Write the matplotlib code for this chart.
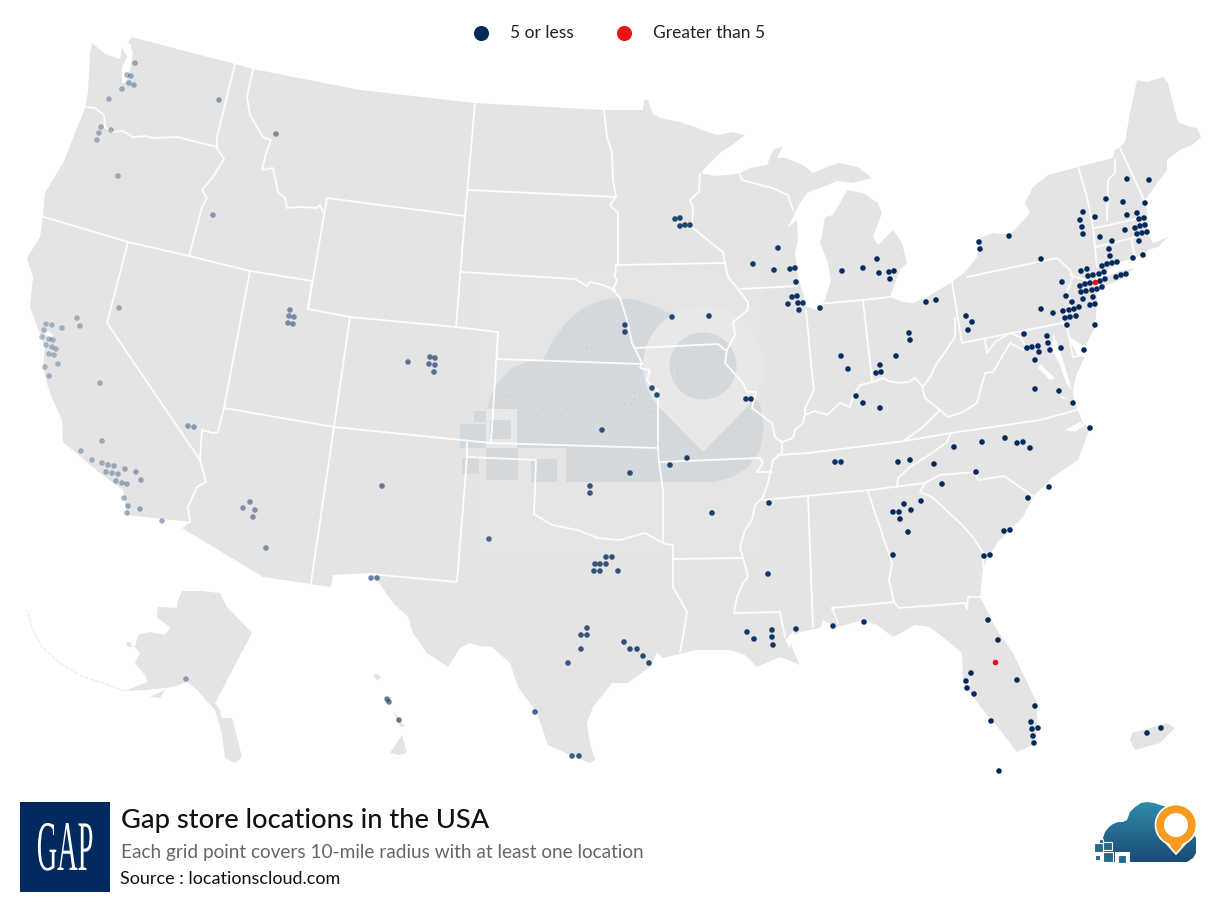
import numpy as np
import matplotlib
matplotlib.use('Agg')
import matplotlib.pyplot as plt
import matplotlib.patheffects as pe
from matplotlib.patches import Polygon, Circle, Rectangle
from matplotlib.transforms import Affine2D
from matplotlib.colors import LinearSegmentedColormap

plt.rcParams['font.family'] = ['Lato', 'DejaVu Sans']

mainland = [(92,43),(105,54),(120,59),(122,47),(127,45),(131,37),(235,64),(253,69),(360,90),(475,103),(604,110),(643,110),(644,100),(648,100),(652,113),(660,118),(680,122),(697,128),(717,135),(733,132),(745,135),
    (735,143),(720,153),(708,165),(701,173),(715,176),(728,175),(740,173),(750,168),(767,165),(773,150),(783,146),(777,158),(785,158),(803,165),(813,173),(827,167),(840,163),(858,167),(872,178),(853,183),(837,181),(820,188),(807,193),(800,203),(790,223),(787,228),(797,220),(798,240),(795,253),(798,277),(803,293),(807,307),(817,310),(825,300),(831,280),(827,260),(820,243),(822,235),(825,217),(833,215),(840,203),(847,190),(863,193),(878,203),(882,213),(873,237),(878,245),(893,230),(902,243),(907,263),(900,270),(895,283),(890,297),(903,302),(913,303),(927,297),(952,282),(965,272),(977,257),(980,238),(993,233),(1010,235),(1030,213),(1025,203),(1033,187),(1048,175),(1078,167),(1113,158),(1115,150),(1120,147),(1125,142),(1130,113),(1137,80),(1147,82),(1163,77),(1168,83),(1178,122),(1190,127),(1197,128),(1201,137),(1192,145),(1180,150),(1167,160),(1167,170),(1150,193),(1145,200),(1148,218),(1147,233),(1153,243),(1168,237),(1158,247),(1148,250),(1143,255),(1117,263),(1105,272),(1097,275),(1095,283),(1097,290),(1097,303),(1095,327),(1085,347),(1075,340),(1068,337),(1077,355),(1085,357),(1077,373),(1074,385),(1073,393),(1075,403),(1083,423),(1090,428),(1078,460),(1053,477),(1033,497),(1023,517),(997,543),(983,567),(980,597),(997,630),(1013,653),(1037,703),(1037,730),(1033,745),(1017,752),(1000,730),(983,710),(963,683),(962,653),(950,643),(930,627),(915,625),(893,637),(877,625),(864,620),(837,627),(823,620),(820,628),(800,632),(790,637),(793,650),(800,665),(780,657),(757,667),(745,655),(730,650),(697,650),(663,658),(657,653),(650,667),(628,683),(612,683),(593,707),(587,723),(590,743),(595,760),(590,763),(570,755),(548,745),(537,713),(518,687),(510,663),(492,647),(480,646),(470,643),(460,648),(448,667),(427,653),(413,633),(408,617),(393,603),(377,580),(370,573),(333,575),(331,587),(263,577),(182,528),(190,522),(127,515),(123,490),(100,473),(63,442),(62,420),(53,400),(48,387),(43,367),(45,347),(30,307),(33,277),(27,258),(40,237),(43,217),(45,193),(63,163),(85,108),(88,92),(90,53)]
long_island = [(1098,284),(1105,277),(1120,271),(1134,268),(1124,278),(1105,286)]
alaska = [(182,591),(200,591),(220,593),(227,607),(252,633),(215,703),(220,710),(222,718),(232,718),(242,757),(235,763),(225,758),(222,733),(215,710),(197,690),(187,682),(173,687),(147,690),(125,691),(147,682),(145,675),(135,663),(140,653),(135,647),(138,635),(150,632),(165,635),(170,628),(157,617),(158,607),(177,608),(178,600)]
kodiak = [(150,697),(165,690),(160,698)]
nunivak = [(126,642),(131,642),(132,647),(128,647)]
aleutians = [(125,691),(103,683),(83,677),(60,663),(43,648),(33,630),(27,610)]
hi_big = [(390,753),(402,735),(407,753),(398,755)]
hi_maui = [(393,710),(405,727),(400,727)]
hi_oahu = [(385,697),(391,697),(391,703),(387,703)]
hi_kauai = [(373,675),(378,674),(381,677),(377,681)]
puerto_rico = [(1132,733),(1167,723),(1175,728),(1160,743),(1135,750),(1130,740)]
islands = [long_island, alaska, kodiak, nunivak, hi_big, hi_maui, hi_oahu, hi_kauai, puerto_rico]

water = [[(130,43),(133,53),(130,70),(125,83),(122,83),(122,67),(127,57),(122,47)],
    [(45,333),(49,331),(53,336),(48,338)],
    [(966,678),(971,680),(970,686),(965,684)],
    [(1053,333),(1060,350),(1066,370),(1072,390),(1066,383),(1060,365),(1052,350)],
    [(1040,364),(1055,378),(1050,380),(1038,368)],
    [(1060,395),(1070,400),(1062,398)],
    [(1065,430),(1080,422),(1085,425),(1075,432)],
    [(785,640),(795,630),(790,648)]]

borders = [
    [(235,64),(217,137),(217,148),(224,159),(213,177),(202,190),(207,198),(202,207),(189,256)],
    [(86,107),(95,108),(104,115),(105,127),(112,132),(123,131),(133,137),(145,136),(153,138),(177,137),(217,147)],
    [(253,69),(247,97),(250,115),(263,137),(271,140),(265,157),(262,170),(273,168),(278,192),(285,198),(287,208),(300,207),(317,208),(320,205),(323,212)],
    [(308,309),(327,198),(465,216)],
    [(475,103),(465,216),(456,327)],
    [(469,190),(616,197)],
    [(462,272),(575,279),(587,286),(590,282),(603,285),(615,290)],
    [(604,110),(607,137),(612,153),(613,180),(616,197),(610,205),(618,213),(618,265)],
    [(616,265),(725,263)],
    [(700,174),(699,192),(690,200),(693,208),(692,227),(710,242),(723,252),(725,263)],
    [(616,265),(615,277),(617,280),(613,290),(620,298),(627,320),(632,343),(642,363),(640,368),(650,370),(647,380),(653,387),(658,390),(658,448),(659,462),(663,490),(663,540)],
    [(456,327),(498,332),(497,359),(642,364)],
    [(44,217),(128,242),(189,256),(250,271),(312,281),(308,309),(350,317),(456,327)],
    [(350,317),(334,427),(311,583)],
    [(498,332),(491,443)],
    [(250,271),(224,408),(218,432),(213,433),(202,430),(200,460),(206,482),(197,487),(188,507),(190,522)],
    [(128,242),(107,323),(200,460)],
    [(224,408),(334,427),(491,443),(658,448)],
    [(467,443),(467,457),(457,582),(370,574)],
    [(467,457),(536,460),(534,514),(552,525),(577,530),(598,538),(620,540),(645,533),(665,544),(673,545),(673,587),(687,612),(683,637),(680,652)],
    [(635,348),(718,344),(725,350)],
    [(725,263),(728,277),(737,288),(748,302),(748,310),(733,322),(735,335),(727,350),(725,363),(743,383),(747,392),(756,392),(752,408),(772,423),(775,437),(782,442),(782,453),(773,460),(768,483),(763,497),(755,505),(752,520),(745,530),(742,540),(740,547),(745,565),(748,577),(743,583),(737,597),(735,607),(734,613),(780,612),(782,622),(785,637)],
    [(659,462),(760,458),(763,463),(757,472),(772,472)],
    [(674,559),(742,558)],
    [(763,500),(870,490),(925,483),(940,475),(975,472),(978,480),(1004,476),(1033,496)],
    [(808,497),(813,627)],
    [(868,492),(892,563),(889,580),(894,602),(899,608),(965,603),(967,609),(968,597),(982,597)],
    [(832,608),(894,602)],
    [(832,608),(838,623)],
    [(925,483),(920,492),(932,497),(960,523),(973,537),(983,553),(983,567)],
    [(897,487),(898,478),(910,467),(932,453),(947,442),(951,433)],
    [(778,455),(808,453),(905,441),(951,433),(1040,420),(1077,410)],
    [(905,440),(923,427),(940,410)],
    [(922,387),(925,398),(940,410),(948,417),(963,412),(977,403),(985,373),(993,372),(1010,343),(1023,350)],
    [(985,340),(987,353),(995,342),(1010,333),(1020,337),(1025,345)],
    [(952,282),(962,343),(1062,323),(1067,327),(1073,357),(1085,355)],
    [(967,277),(1057,258),(1070,270),(1073,277),(1065,297),(1073,300),(1062,323)],
    [(1070,275),(1095,283)],
    [(1078,167),(1087,197),(1093,227),(1097,267)],
    [(1115,160),(1115,173),(1108,180),(1107,220)],
    [(1120,148),(1145,202)],
    [(1095,228),(1145,217)],
    [(1096,247),(1132,238),(1147,233)],
    [(1131,238),(1135,257)],
    [(955,318),(955,337),(943,355),(937,363),(930,377),(923,387),(915,378),(909,382),(898,383),(888,381),(883,378),(873,382),(860,385),(853,397),(850,407),(840,403),(827,415),(815,411),(805,415),(803,423),(795,430),(793,438),(782,442)],
    [(741,289),(797,286)],
    [(806,310),(812,373),(814,390),(805,408),(805,415)],
    [(863,300),(872,380)],
    [(807,305),(863,300),(890,297)],
    [(740,175),(742,180),(772,188),(788,195),(793,210)]]

# watermark outlines
wm_cloud = [(543,360),(553,340),(567,322),(583,308),(600,301),(617,298),(637,300),(657,307),(672,315),(703,366),(760,403),(764,427),(760,450),(747,468),(730,478),(713,482),(566,482),(566,448),(517,448),(517,409),(487,409),(492,393),(500,380),(512,368),(527,362)]
wm_squares = [(474,411,12,11),(460,424,26,24),(490,420,21,19),(486,448,32,32),(462,458,17,16),(531,459,26,23)]
wm_pale_frame = (486,409,31,39)
wm_pin_centre = (703,366)
wm_pin_tip = (703,452)
wm_specks = [(580,334),(585,334),(586,343),(596,341),(603,337),(608,341),(618,343),(586,348),(591,348),(596,347),(613,346),(620,346),(581,350),(554,350),(522,378),(557,381),(579,383),(607,390),(614,394),(628,394),(634,392),(622,398),(634,399),(642,397),(624,403),(630,404),(642,407),(616,405),(533,411),(536,415),(538,423),(564,403),(567,408),(576,428),(594,427),(649,412),(653,412),(647,418),(653,423),(649,433),(593,460),(603,475),(678,360),(682,357),(677,369),(680,369),(677,374),(505,395),(509,395),(507,407)]

# stores, by region of the map
pts_west = [(135,63),(127,75),(131,76),(129,83),(134,85),(122,89),(109,99),(219,100),(276,134),(101,127),(111,130),(99,133),(97,140),(118,176),(213,215),(290,310),(289,316),(294,317),(288,323),(293,324),(408,362),(430,357),(435,358),(429,364),(435,365),(434,372)]
pts_calif = [(119,308),(77,318),(80,326),(46,324),(52,325),(62,328),(44,330),(42,337),(49,339),(53,340),(46,345),(52,347),(56,349),(49,354),(54,355),(58,364),(45,367),(49,376),(100,383),(188,426),(194,427),(102,441),(81,451),(92,460),(102,463),(108,465),(114,466),(125,469),(106,472),(112,473),(118,474),(136,472),(141,480),(116,481),(122,483),(127,484),(124,498),(128,506),(140,509),(127,513),(162,521)]
pts_southwest = [(250,502),(243,508),(255,510),(253,517),(266,548),(382,486),(489,539),(371,578),(377,578),(186,679),(387,699),(389,702),(399,720)]
pts_midwest = [(675,219),(680,218),(680,226),(685,225),(690,225),(778,248),(753,264),(774,270),(790,269),(795,268),(796,282),(792,297),(797,296),(798,303),(803,303),(788,304),(799,310),(820,308),(841,356),(848,369),(672,317),(709,316),(625,325),(625,332),(652,388),(657,395),(746,399),(751,399),(602,430),(687,458),(670,465),(630,473),(590,486),(590,493),(712,513)]
pts_south = [(769,503),(835,462),(841,462),(768,574),(606,557),(612,557),(595,564),(600,564),(606,564),(594,571),(600,571),(618,571),(587,628),(581,635),(587,635),(581,649),(568,663),(624,642),(630,649),(637,649),(643,656),(649,663),(535,712),(572,756),(579,756),(747,632),(754,639),(772,630),(772,637),(773,645),(796,629),(833,626),(864,622)]
pts_northeast = [(1127,179),(1149,180),(1106,199),(1123,202),(1145,203),(1083,212),(1137,213),(1095,217),(1127,215),(1139,219),(1144,218),(1080,220),(1082,227),(1140,226),(1145,225),(1135,228),(1125,230),(1083,234),(1137,234),(1142,233),(1147,232),(1100,237),(1112,241),(1139,241),(1109,249),(1110,256),(1143,255),(1133,258),(1117,262),(1112,263),(1107,264),(1102,266),(1104,272),(1099,274),(1087,269),(1081,271),(1093,275),(1088,276),(1126,274),(1121,275),(1116,277),(1105,279),(1100,281),(1090,283),(1085,284),(1080,286),(1102,287),(1097,289),(1092,290),(1086,291),(1081,292),(1062,282),(1066,296),(1083,299),(1093,297),(1072,302),(1095,304),(1090,305),(1079,307),(1074,309),(1069,310),(1063,311),(1041,309),(1053,313),(1076,316),(1070,317),(1065,318),(1067,325),(1095,325),(1041,259)]
pts_lakes_ohio = [(979,242),(980,249),(1009,236),(842,271),(863,268),(877,259),(879,273),(889,272),(894,271),(890,279),(926,302),(936,300),(966,316),(972,322),(968,330),(909,333),(910,340),(896,356),(880,365),(881,372),(876,373),(856,396),(863,403),(880,408)]
pts_midatlantic = [(1024,334),(1047,336),(1048,343),(1027,348),(1032,347),(1038,346),(1039,352),(1050,350),(1061,348),(1084,350),(1035,360),(1035,389),(1059,391),(1073,403),(1090,428)]
pts_southeast = [(954,447),(982,442),(1005,438),(1017,443),(1023,442),(1030,448),(898,462),(910,460),(934,464),(976,472),(942,484),(1049,487),(1028,498),(921,501),(904,504),(893,512),(899,512),(911,510),(900,519),(908,532),(1004,531),(1010,530),(893,555),(984,556),(990,555)]
pts_florida = [(988,620),(998,640),(971,673),(966,681),(1017,680),(967,688),(974,694),(1035,706),(991,721),(1031,722),(1038,728),(1032,729),(1033,736),(1034,743),(999,771),(1147,733),(1161,728)]
pts_over_five = [(1095,282),(995,662)]

legend_labels = ['5 or less', 'Greater than 5']
title = 'Gap store locations in the USA'
subtitle = 'Each grid point covers 10-mile radius with at least one location'
source = 'Source : locationscloud.com'

NAVY = '#002a5e'
RED = '#ee1111'
LAND = '#e4e4e4'


class Squeeze(pe.AbstractPathEffect):
    # narrows and heightens a text, the Gap logo is very condensed
    def __init__(self, cx, base, sx, sy):
        self.cx, self.base, self.sx, self.sy = cx, base, sx, sy
    def draw_path(self, renderer, gc, tpath, affine, rgbFace=None):
        t = affine + Affine2D().translate(-self.cx, -self.base).scale(self.sx, self.sy).translate(self.cx, self.base)
        renderer.draw_path(gc, tpath, t, rgbFace)


fig = plt.figure(figsize=(12.24, 9.02), dpi=100)
ax = fig.add_axes([0, 0, 1, 1])

ax.add_patch(Polygon(mainland, fc=LAND, ec='none', zorder=1))
for isl in islands:
    ax.add_patch(Polygon(isl, fc=LAND, ec='none', zorder=1))
xs, ys = zip(*aleutians)
ax.plot(xs, ys, color='#ececec', lw=1.0, ls=(0, (3, 1)), zorder=1)
for w in water:
    ax.add_patch(Polygon(w, fc='white', ec='none', zorder=2))

# watermark sits under the state lines
ax.add_patch(Rectangle((480, 270), 285, 283, fc='white', alpha=0.07, ec='none', zorder=2))
ax.add_patch(Polygon(wm_cloud, fc='#d3d9dc', ec='none', zorder=3))
ax.add_patch(Rectangle(wm_pale_frame[:2], wm_pale_frame[2], wm_pale_frame[3], fc='#e8e8e8', ec='none', zorder=3))
for sq in wm_squares:
    ax.add_patch(Rectangle(sq[:2], sq[2], sq[3], fc='#d3d9dc', ec='none', zorder=3))
cx, cy = wm_pin_centre
ax.add_patch(Circle(wm_pin_centre, 60, fc='#e8e8e8', ec='none', zorder=4))
ax.add_patch(Polygon([(cx - 44, cy + 41), wm_pin_tip, (cx + 44, cy + 41)], fc='#e8e8e8', ec='none', zorder=4))
ax.add_patch(Circle(wm_pin_centre, 33.5, fc='#d3d9dc', ec='none', zorder=4))
sp = np.array(wm_specks)
ax.scatter(sp[:, 0], sp[:, 1], s=0.6, c='#b4bec3', linewidths=0, zorder=4)

for line in borders:
    xs, ys = zip(*line)
    ax.plot(xs, ys, color='white', lw=1.3, alpha=0.92, solid_joinstyle='round', zorder=5)

# dots fade out towards the west of the map
all_pts = np.array(pts_west + pts_calif + pts_southwest + pts_midwest + pts_south + pts_northeast + pts_lakes_ohio + pts_midatlantic + pts_southeast + pts_florida)
fade = np.interp(all_pts[:, 0], [50, 290, 430, 600, 750, 900], [0.28, 0.48, 0.62, 0.78, 0.92, 1.0])
cols = np.ones((len(all_pts), 4))
cols[:, :3] = matplotlib.colors.to_rgb(NAVY)
cols[:, 3] = fade
ax.scatter(all_pts[:, 0], all_pts[:, 1], s=16, c=cols, linewidths=0, zorder=6)
red = np.array(pts_over_five)
ax.scatter(red[:, 0], red[:, 1], s=16, c=RED, linewidths=0, zorder=7)

# legend
ax.scatter([481], [33], s=118, c=NAVY, linewidths=0, zorder=8)
ax.scatter([624], [33], s=118, c=RED, linewidths=0, zorder=8)
ax.text(510, 33, legend_labels[0], fontsize=12.5, color='#222222', va='center', ha='left')
ax.text(653, 33, legend_labels[1], fontsize=12.5, color='#222222', va='center', ha='left')

# footer
ax.add_patch(Rectangle((20, 802), 90, 90, fc=NAVY, ec='none', zorder=2))
base_px = 902 - 870
ax.text(65, 870, 'GAP', family='Liberation Serif', fontsize=40, color='white', ha='center', va='baseline', zorder=3,
        path_effects=[Squeeze(65, base_px, 0.51, 1.28)])
ax.text(121, 828, title, fontsize=19.6, weight='medium', color='#111111', va='baseline', ha='left')
ax.text(121, 858, subtitle, fontsize=13.7, color='#666666', va='baseline', ha='left')
ax.text(120, 884, source, fontsize=13.0, color='#111111', va='baseline', ha='left')

# locationscloud logo
logo_cloud = [(1103,862),(1103,838),(1105,832),(1109,827),(1113,824),(1118,822),(1123,822),(1127,820),(1130,812),(1135,807),(1141,803),(1147,802),(1154,803),(1160,805),(1170,808),(1190,830),(1196,838),(1196,853),(1193,858),(1187,862)]
grad = LinearSegmentedColormap.from_list('lc', ['#2f8ca8', '#1b4a76'])
im = ax.imshow(np.linspace(0, 1, 60).reshape(-1, 1), cmap=grad, extent=(1100, 1200, 862, 802), aspect='auto', zorder=3)
im.set_clip_path(Polygon(logo_cloud, transform=ax.transData))
ax.add_patch(Rectangle((1115, 852), 15, 12, fc='white', ec='none', zorder=4))
for sq in [(1094,843,9,9),(1099,839,4,4),(1103,842,9,8),(1095,855,5,5),(1103,852,10,10),(1118,855,8,8)]:
    ax.add_patch(Rectangle(sq[:2], sq[2], sq[3], fc='#27698c', ec='white', lw=0.8, zorder=5))
ax.add_patch(Polygon([(1158,834),(1176,854),(1194,834)], fc='#f89c1f', ec='white', lw=1.2, zorder=6))
ax.add_patch(Circle((1176,825), 20.5, fc='#f89c1f', ec='white', lw=1.2, zorder=6))
ax.add_patch(Polygon([(1160,834),(1176,851),(1192,834),(1176,822)], fc='#f89c1f', ec='none', zorder=7))
ax.add_patch(Circle((1176,825), 12, fc='white', ec='none', zorder=8))

ax.set_xlim(0, 1224)
ax.set_ylim(902, 0)
ax.axis('off')
fig.savefig('out.png', dpi=100)
